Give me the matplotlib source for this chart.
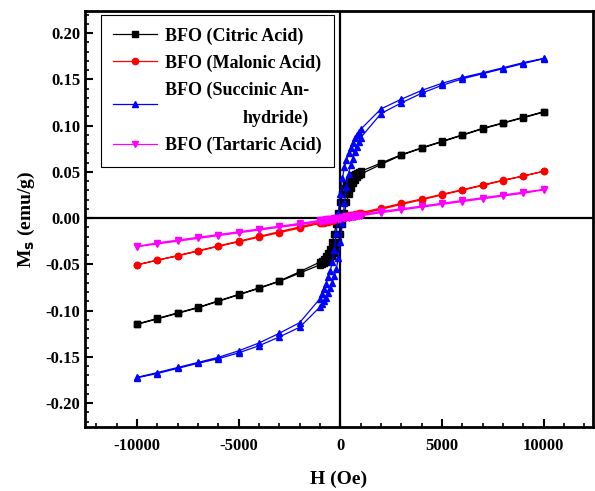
import matplotlib
matplotlib.use("Agg")
import matplotlib.pyplot as plt
from matplotlib.ticker import MultipleLocator, FormatStrFormatter

plt.rcParams['font.family'] = ['Liberation Serif', 'DejaVu Serif']
plt.rcParams['font.weight'] = 'bold'
plt.rcParams['axes.unicode_minus'] = False

# field sweep: +10 kOe -> -10 kOe (descending), then back (ascending)
h_down = [10000, 9000, 8000, 7000, 6000, 5000, 4000, 3000, 2000, 1000,
          900, 800, 700, 600, 500, 400, 300, 200, 100, 0,
          -100, -200, -300, -400, -500, -600, -700, -800, -900, -1000,
          -2000, -3000, -4000, -5000, -6000, -7000, -8000, -9000, -10000]
h_up = [-10000, -9000, -8000, -7000, -6000, -5000, -4000, -3000, -2000, -1000,
        -900, -800, -700, -600, -500, -400, -300, -200, -100, 0,
        100, 200, 300, 400, 500, 600, 700, 800, 900, 1000,
        2000, 3000, 4000, 5000, 6000, 7000, 8000, 9000, 10000]

citric_down = [0.115, 0.109, 0.103, 0.097, 0.090, 0.083, 0.076, 0.0685, 0.0595, 0.0505,
               0.0495, 0.0485, 0.0475, 0.046, 0.044, 0.0415, 0.038, 0.033, 0.026, 0.017,
               0.006, -0.006, -0.017, -0.026, -0.033, -0.038, -0.0415, -0.044, -0.046, -0.0475,
               -0.058, -0.068, -0.0755, -0.0825, -0.0895, -0.0965, -0.1025, -0.1085, -0.1145]
citric_up = [-0.115, -0.109, -0.103, -0.097, -0.090, -0.083, -0.076, -0.0685, -0.0595, -0.0505,
             -0.0495, -0.0485, -0.0475, -0.046, -0.044, -0.0415, -0.038, -0.033, -0.026, -0.017,
             -0.006, 0.006, 0.017, 0.026, 0.033, 0.038, 0.0415, 0.044, 0.046, 0.0475,
             0.058, 0.068, 0.0755, 0.0825, 0.0895, 0.0965, 0.1025, 0.1085, 0.1145]

malonic_down = [0.0505, 0.0455, 0.041, 0.0358, 0.0307, 0.0257, 0.0207, 0.0158, 0.0108, 0.0058,
                0.0053, 0.0048, 0.0043, 0.0038, 0.0033, 0.0028, 0.0023, 0.0018, 0.0013, 0.0008,
                0.0003, -0.0002, -0.0007, -0.0012, -0.0017, -0.0022, -0.0027, -0.0032, -0.0037, -0.0042,
                -0.0095, -0.0147, -0.0198, -0.025, -0.0301, -0.0352, -0.0405, -0.0455, -0.0507]
malonic_up = [-0.0505, -0.0455, -0.041, -0.0358, -0.0307, -0.0257, -0.0207, -0.0158, -0.0108, -0.0058,
              -0.0053, -0.0048, -0.0043, -0.0038, -0.0033, -0.0028, -0.0023, -0.0018, -0.0013, -0.0008,
              -0.0003, 0.0002, 0.0007, 0.0012, 0.0017, 0.0022, 0.0027, 0.0032, 0.0037, 0.0042,
              0.0095, 0.0147, 0.0198, 0.025, 0.0301, 0.0352, 0.0405, 0.0455, 0.0507]

succinic_down = [0.1726, 0.168, 0.1625, 0.157, 0.152, 0.1457, 0.138, 0.1285, 0.118, 0.096,
                 0.093, 0.090, 0.086, 0.081, 0.076, 0.070, 0.063, 0.055, 0.043, 0.026,
                 0.005, -0.016, -0.034, -0.048, -0.057, -0.064, -0.071, -0.077, -0.082, -0.087,
                 -0.113, -0.1245, -0.135, -0.1435, -0.1505, -0.156, -0.1615, -0.167, -0.1722]
succinic_up = [-0.1726, -0.168, -0.1625, -0.157, -0.152, -0.1457, -0.138, -0.1285, -0.118, -0.096,
               -0.093, -0.090, -0.086, -0.081, -0.076, -0.070, -0.063, -0.055, -0.043, -0.026,
               -0.005, 0.016, 0.034, 0.048, 0.057, 0.064, 0.071, 0.077, 0.082, 0.087,
               0.113, 0.1245, 0.135, 0.1435, 0.1505, 0.156, 0.1615, 0.167, 0.1722]

tartaric_down = [0.031, 0.028, 0.025, 0.022, 0.019, 0.016, 0.013, 0.010, 0.0072, 0.0038,
                 0.0035, 0.0032, 0.0029, 0.0026, 0.0023, 0.002, 0.0017, 0.0014, 0.0011, 0.0006,
                 0.0003, 0.0, -0.0003, -0.0006, -0.0009, -0.0012, -0.0015, -0.0018, -0.0021, -0.0024,
                 -0.0058, -0.0088, -0.0118, -0.0148, -0.0178, -0.0208, -0.0238, -0.0268, -0.0305]
tartaric_up = [-0.031, -0.028, -0.025, -0.022, -0.019, -0.016, -0.013, -0.010, -0.0072, -0.0038,
               -0.0035, -0.0032, -0.0029, -0.0026, -0.0023, -0.002, -0.0017, -0.0014, -0.0011, -0.0006,
               -0.0003, 0.0, 0.0003, 0.0006, 0.0009, 0.0012, 0.0015, 0.0018, 0.0021, 0.0024,
               0.0058, 0.0088, 0.0118, 0.0148, 0.0178, 0.0208, 0.0238, 0.0268, 0.0305]

labels = ['BFO (Citric Acid)', 'BFO (Malonic Acid)',
          'BFO (Succinic An-\nhydride)', 'BFO (Tartaric Acid)']

fig = plt.figure(figsize=(5.95, 4.91), dpi=100)
ax = fig.add_axes([0.143, 0.130, 0.853, 0.848])

series = [(citric_down, citric_up, 'black', 's'),
          (malonic_down, malonic_up, 'red', 'o'),
          (succinic_down, succinic_up, 'blue', '^'),
          (tartaric_down, tartaric_up, 'magenta', 'v')]

for i, (down, up, color, marker) in enumerate(series):
    ax.plot(h_down + h_up, down + up, color=color, marker=marker, markersize=4.5,
            linewidth=0.9, label=labels[i])

ax.axhline(0, color='black', linewidth=1.6, zorder=0)
ax.axvline(0, color='black', linewidth=1.6, zorder=0)

ax.set_xlim(-12550, 12400)
ax.set_ylim(-0.226, 0.224)
ax.xaxis.set_major_locator(MultipleLocator(5000))
ax.xaxis.set_minor_locator(MultipleLocator(1000))
ax.yaxis.set_major_locator(MultipleLocator(0.05))
ax.yaxis.set_minor_locator(MultipleLocator(0.01))
ax.yaxis.set_major_formatter(FormatStrFormatter('%.2f'))
ax.tick_params(which='major', direction='in', length=6, width=1.5, labelsize=12)
ax.tick_params(which='minor', direction='in', length=3, width=1.2)
ax.tick_params(axis='x', which='major', pad=8)
for s in ax.spines.values():
    s.set_linewidth(2)

ax.set_xlabel('H (Oe)', fontsize=14, fontweight='bold', labelpad=12)
ax.set_ylabel('M$_\\mathbf{s}$ (emu/g)', fontsize=14, fontweight='bold', labelpad=6)

leg = ax.legend(loc='upper left', bbox_to_anchor=(0.031, 0.991), borderaxespad=0,
                fancybox=False, edgecolor='black', framealpha=1, fontsize=13,
                handlelength=2.4, borderpad=0.7, labelspacing=0.55, handletextpad=0.45)
leg.get_frame().set_linewidth(0.8)
leg.get_texts()[2].set_multialignment('right')
leg.get_texts()[2].set_linespacing(1.8)

fig.savefig('out.png', dpi=100)
